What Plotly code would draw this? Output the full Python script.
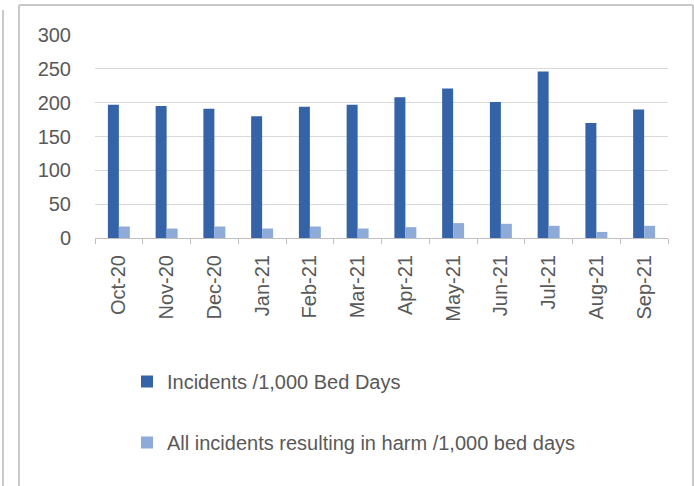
import plotly.graph_objects as go

months = ["Oct-20", "Nov-20", "Dec-20", "Jan-21", "Feb-21", "Mar-21",
          "Apr-21", "May-21", "Jun-21", "Jul-21", "Aug-21", "Sep-21"]
incidents_per_1000 = [197, 195, 191, 180, 194, 197, 208, 221, 201, 246, 170, 190]
harm_per_1000 = [17, 14, 17, 14, 17, 14, 16, 22, 21, 18, 9, 18]

W, H = 694, 486
ML, MR, MT, MB = 95, 26, 35, 248
PW, PH = W - ML - MR, H - MT - MB

FONT = "Liberation Sans"
GREY_TXT = "#595959"


def px_x(x):
    return (x - ML) / PW


def px_y(y):
    return (H - MB - y) / PH


fig = go.Figure()
fig.add_trace(go.Bar(x=months, y=incidents_per_1000, name="Incidents /1,000 Bed Days",
                     marker=dict(color="#3463a8", line=dict(width=0)), legendgroup="a"))
fig.add_trace(go.Bar(x=months, y=harm_per_1000,
                     name="All incidents resulting in harm /1,000 bed days",
                     marker=dict(color="#8eaad8", line=dict(width=0)), legendgroup="b"))

border = "#c9c9c9"
shapes = [
    # outer frame of the chart box
    dict(type="line", xref="paper", yref="paper", x0=px_x(19), x1=px_x(693), y0=px_y(5), y1=px_y(5),
         line=dict(color=border, width=2)),
    dict(type="line", xref="paper", yref="paper", x0=px_x(19), x1=px_x(19), y0=px_y(5), y1=px_y(490),
         line=dict(color=border, width=2)),
    dict(type="line", xref="paper", yref="paper", x0=px_x(693), x1=px_x(693), y0=px_y(5), y1=px_y(490),
         line=dict(color=border, width=2)),
    dict(type="line", xref="paper", yref="paper", x0=px_x(3), x1=px_x(3), y0=px_y(10), y1=px_y(490),
         line=dict(color=border, width=2)),
]

fig.update_layout(
    width=W, height=H,
    margin=dict(l=ML, r=MR, t=MT, b=MB, autoexpand=False),
    paper_bgcolor="white", plot_bgcolor="white",
    barmode="group", bargap=0.54, bargroupgap=0,
    font=dict(family=FONT, color=GREY_TXT, size=18),
    shapes=shapes,
    showlegend=True,
    legend=dict(x=px_x(127), y=px_y(362),
                xanchor="left", yanchor="top", orientation="v",
                font=dict(size=20, color=GREY_TXT, family=FONT),
                tracegroupgap=32, traceorder="grouped", bgcolor="rgba(0,0,0,0)"),
    xaxis=dict(type="category", tickson="boundaries", ticks="outside", ticklen=5,
               tickcolor="#bfbfbf", showline=True, linecolor="#bfbfbf", linewidth=1,
               tickangle=-90, showgrid=False, ticklabelstandoff=8,
               tickfont=dict(size=20, color=GREY_TXT)),
    yaxis=dict(range=[0, 300], dtick=50, showgrid=True, gridcolor="#d9d9d9", gridwidth=1,
               zeroline=False, showline=False, ticks="", ticklabelstandoff=23,
               tickfont=dict(size=20, color=GREY_TXT)),
)

fig.write_html("out.html")
